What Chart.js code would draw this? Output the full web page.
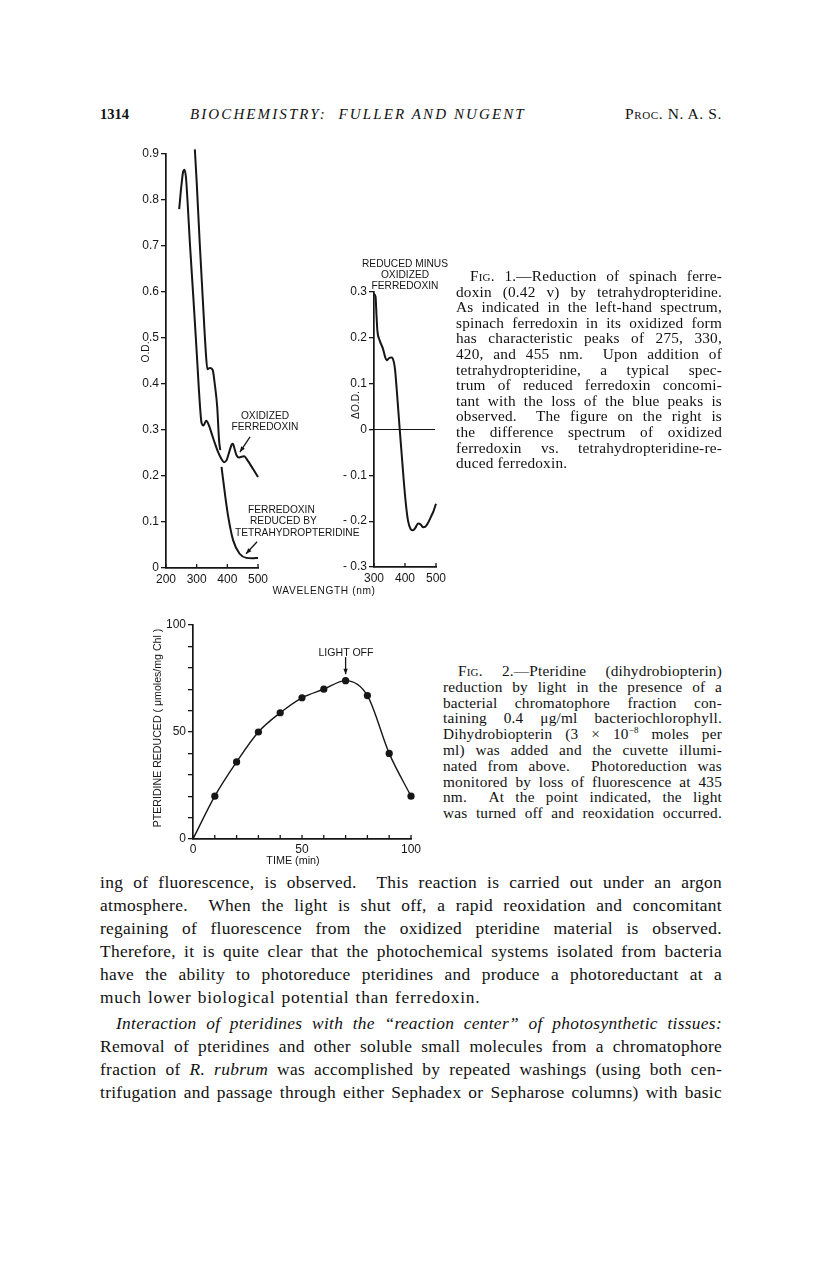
<!DOCTYPE html>
<html>
<head>
<meta charset="utf-8">
<script src="https://cdn.jsdelivr.net/npm/chart.js@4.4.1/dist/chart.umd.min.js"></script>
<style>
  body { margin: 0; background: #fff; }
  #page { position: relative; width: 816px; height: 1270px; background: #fff; color: #111;
          font-family: "Liberation Serif", "Times New Roman", serif; overflow: hidden; }
  canvas { position: absolute; }
  .ln { position: absolute; text-align: justify; text-align-last: justify; white-space: normal; }
  .cap { font-size: 15.3px; line-height: 16px; height: 16px; letter-spacing: 0.2px; }
  .body { font-size: 17.4px; line-height: 20px; height: 20px; letter-spacing: 0.3px; }
  .sc { font-variant: small-caps; }
  .lbl { position: absolute; font-family: "Liberation Sans", Arial, sans-serif; font-size: 10.2px;
         line-height: 10.8px; text-align: center; white-space: nowrap; color: #161616; }
  .rot { transform: translate(-50%, -50%) rotate(-90deg); }
</style>
</head>
<body>
<div id="page">
  <!-- running head -->
  <div class="ln" style="left:100px;top:106px;font-size:14.5px;font-weight:bold;text-align:left;text-align-last:left;">1314</div>
  <div class="ln" style="left:190px;top:106px;font-size:15px;font-style:italic;letter-spacing:2.1px;text-align:left;text-align-last:left;white-space:nowrap">BIOCHEMISTRY:&nbsp; FULLER AND NUGENT</div>
  <div class="ln sc" style="left:560px;top:105px;width:162px;font-size:15.5px;letter-spacing:0.6px;text-align:right;text-align-last:right;">Proc. N. A. S.</div>

  <canvas id="odLeft" width="178" height="452" style="left:100px;top:140px"></canvas>
  <canvas id="odRight" width="156" height="321" style="left:300px;top:270px"></canvas>
  <canvas id="pterChart" width="291" height="251" style="left:140px;top:610px"></canvas>

  <!-- figure 1 labels -->
  <div class="lbl rot" style="left:146px;top:352px">O.D.</div>
  <div class="lbl rot" style="left:356px;top:405px">ΔO.D.</div>
  <div class="lbl" style="left:324px;top:586px;transform:translateX(-50%);letter-spacing:0.6px">WAVELENGTH (nm)</div>
  <div class="lbl" style="left:405px;top:259px;transform:translateX(-50%)">REDUCED MINUS<br>OXIDIZED<br>FERREDOXIN</div>
  <div class="lbl" style="left:265px;top:411px;transform:translateX(-50%)">OXIDIZED<br>FERREDOXIN</div>
  <div class="lbl" style="left:248px;top:505px;text-align:left">FERREDOXIN</div>
  <div class="lbl" style="left:250px;top:516px;text-align:left">REDUCED BY</div>
  <div class="lbl" style="left:235px;top:528px;text-align:left">TETRAHYDROPTERIDINE</div>

  <!-- figure 2 labels -->
  <div class="lbl rot" style="left:157px;top:728px;font-size:10.6px">PTERIDINE REDUCED ( μmoles/mg Chl )</div>
  <div class="lbl" style="left:293px;top:855px;transform:translateX(-50%);font-size:10.8px">TIME (min)</div>
  <div class="lbl" style="left:346px;top:647px;transform:translateX(-50%);font-size:10.6px">LIGHT OFF</div>

  <!-- figure 1 caption -->
  <div class="ln cap" style="left:470px;width:252px;top:268px"><span class="sc">Fig.</span> 1.—Reduction of spinach ferre-</div>
  <div class="ln cap" style="left:456px;width:266px;top:283.6px">doxin (0.42 v) by tetrahydropteridine.</div>
  <div class="ln cap" style="left:456px;width:266px;top:299.2px">As indicated in the left-hand spectrum,</div>
  <div class="ln cap" style="left:456px;width:266px;top:314.8px">spinach ferredoxin in its oxidized form</div>
  <div class="ln cap" style="left:456px;width:266px;top:330.4px">has characteristic peaks of 275, 330,</div>
  <div class="ln cap" style="left:456px;width:266px;top:346px">420, and 455 nm.&nbsp; Upon addition of</div>
  <div class="ln cap" style="left:456px;width:266px;top:361.6px">tetrahydropteridine, a typical spec-</div>
  <div class="ln cap" style="left:456px;width:266px;top:377.2px">trum of reduced ferredoxin concomi-</div>
  <div class="ln cap" style="left:456px;width:266px;top:392.8px">tant with the loss of the blue peaks is</div>
  <div class="ln cap" style="left:456px;width:266px;top:408.4px">observed.&nbsp; The figure on the right is</div>
  <div class="ln cap" style="left:456px;width:266px;top:424px">the difference spectrum of oxidized</div>
  <div class="ln cap" style="left:456px;width:266px;top:439.6px">ferredoxin vs. tetrahydropteridine-re-</div>
  <div class="ln cap" style="left:456px;width:266px;top:455.2px;text-align:left;text-align-last:left">duced ferredoxin.</div>

  <!-- figure 2 caption -->
  <div class="ln cap" style="left:458px;width:264px;top:663px"><span class="sc">Fig.</span> 2.—Pteridine (dihydrobiopterin)</div>
  <div class="ln cap" style="left:443px;width:279px;top:678.8px">reduction by light in the presence of a</div>
  <div class="ln cap" style="left:443px;width:279px;top:694.6px">bacterial chromatophore fraction con-</div>
  <div class="ln cap" style="left:443px;width:279px;top:710.4px">taining 0.4 μg/ml bacteriochlorophyll.</div>
  <div class="ln cap" style="left:443px;width:279px;top:726.2px">Dihydrobiopterin (3 × 10<sup style="font-size:9px;line-height:0">−8</sup> moles per</div>
  <div class="ln cap" style="left:443px;width:279px;top:742px">ml) was added and the cuvette illumi-</div>
  <div class="ln cap" style="left:443px;width:279px;top:757.8px">nated from above.&nbsp; Photoreduction was</div>
  <div class="ln cap" style="left:443px;width:279px;top:773.6px">monitored by loss of fluorescence at 435</div>
  <div class="ln cap" style="left:443px;width:279px;top:789.4px">nm.&nbsp; At the point indicated, the light</div>
  <div class="ln cap" style="left:443px;width:279px;top:805.2px">was turned off and reoxidation occurred.</div>

  <!-- body text -->
  <div class="ln body" style="left:100px;width:622px;top:872px">ing of fluorescence, is observed.&nbsp; This reaction is carried out under an argon</div>
  <div class="ln body" style="left:100px;width:622px;top:895px">atmosphere.&nbsp; When the light is shut off, a rapid reoxidation and concomitant</div>
  <div class="ln body" style="left:100px;width:622px;top:918px">regaining of fluorescence from the oxidized pteridine material is observed.</div>
  <div class="ln body" style="left:100px;width:622px;top:941px">Therefore, it is quite clear that the photochemical systems isolated from bacteria</div>
  <div class="ln body" style="left:100px;width:622px;top:964px">have the ability to photoreduce pteridines and produce a photoreductant at a</div>
  <div class="ln body" style="left:100px;width:622px;top:987px;text-align:left;text-align-last:left;letter-spacing:0.8px;word-spacing:1px">much lower biological potential than ferredoxin.</div>
  <div class="ln body" style="left:116px;width:606px;top:1013px;font-style:italic">Interaction of pteridines with the “reaction center” of photosynthetic tissues:</div>
  <div class="ln body" style="left:100px;width:622px;top:1036px">Removal of pteridines and other soluble small molecules from a chromatophore</div>
  <div class="ln body" style="left:100px;width:622px;top:1059px">fraction of <i>R. rubrum</i> was accomplished by repeated washings (using both cen-</div>
  <div class="ln body" style="left:100px;width:622px;top:1082px">trifugation and passage through either Sephadex or Sepharose columns) with basic</div>
</div>

<script>
// Fig. 1, left: absorbance spectra
const oxWavelength = [243, 250, 256, 260, 265, 270, 278, 289, 300, 310, 316, 322, 331, 340, 350, 360, 370, 380, 390, 398, 406, 414, 418, 424, 430, 438, 446, 455, 462, 472, 485, 500];
const oxOD = [0.78, 0.83, 0.862, 0.866, 0.85, 0.80, 0.705, 0.59, 0.47, 0.36, 0.315, 0.31, 0.32, 0.31, 0.29, 0.27, 0.252, 0.238, 0.23, 0.235, 0.252, 0.268, 0.27, 0.258, 0.245, 0.24, 0.242, 0.243, 0.238, 0.228, 0.214, 0.198];

const redWavelength = [294, 300, 310, 321, 329, 335, 343, 352, 359, 367, 373, 377, 379, 381, 392, 403, 419, 440, 462, 480, 500];
const redOD = [0.91, 0.84, 0.706, 0.572, 0.478, 0.432, 0.435, 0.431, 0.40, 0.35, 0.278, 0.256, null, 0.22, 0.162, 0.111, 0.06, 0.031, 0.022, 0.021, 0.022];

// Fig. 1, right: difference spectrum
const diffWavelength = [300, 305, 308, 311, 318, 329, 336, 341, 349, 357, 364, 368, 373, 378, 383, 390, 397, 404, 410, 418, 426, 434, 442, 450, 458, 466, 474, 484, 492, 500];
const diffOD = [0.296, 0.29, 0.25, 0.215, 0.195, 0.176, 0.158, 0.151, 0.156, 0.157, 0.147, 0.13, 0.09, 0.045, 0.0, -0.06, -0.12, -0.17, -0.2, -0.217, -0.22, -0.214, -0.205, -0.207, -0.213, -0.212, -0.204, -0.19, -0.178, -0.162];
const zeroWavelength = [300, 497];
const zeroOD = [0, 0];

// Fig. 2: pteridine reduced vs time
const timeMin = [0, 10, 20, 30, 40, 50, 60, 70, 80, 90, 100];
const pteridineReduced = [0, 20, 36, 50, 59, 66, 70, 74, 67, 40, 20];

const ink = '#161616';
Chart.defaults.font.family = '"Liberation Sans", Arial, sans-serif';
Chart.defaults.font.size = 12;
Chart.defaults.color = ink;
Chart.defaults.animation = false;

const pts = (xs, ys) => xs.map((x, i) => ({ x: x, y: ys[i] }));

// arrows (in data units) and short inward ticks on the x axis
const marks = {
  id: 'marks',
  afterDatasetsDraw(chart, args, opts) {
    const ctx = chart.ctx, xs = chart.scales.x, ys = chart.scales.y;
    ctx.save();
    ctx.strokeStyle = ink; ctx.fillStyle = ink; ctx.lineWidth = 1.3;
    if (opts.inner) {
      xs.ticks.forEach(t => {
        const px = xs.getPixelForValue(t.value);
        ctx.beginPath(); ctx.moveTo(px, ys.bottom); ctx.lineTo(px, ys.bottom - 4); ctx.stroke();
      });
    }
    (opts.arrows || []).forEach(a => {
      const x0 = xs.getPixelForValue(a[0]), y0 = ys.getPixelForValue(a[1]);
      const x1 = xs.getPixelForValue(a[2]), y1 = ys.getPixelForValue(a[3]);
      ctx.beginPath(); ctx.moveTo(x0, y0); ctx.lineTo(x1, y1); ctx.stroke();
      const ang = Math.atan2(y1 - y0, x1 - x0), h = 6;
      ctx.beginPath(); ctx.moveTo(x1, y1);
      ctx.lineTo(x1 - h * Math.cos(ang - 0.38), y1 - h * Math.sin(ang - 0.38));
      ctx.lineTo(x1 - h * Math.cos(ang + 0.38), y1 - h * Math.sin(ang + 0.38));
      ctx.closePath(); ctx.fill();
    });
    ctx.restore();
  }
};

function yAxis(min, max, step, width, fmt) {
  return {
    type: 'linear', min: min, max: max,
    afterFit: s => { s.width = width; },
    ticks: { stepSize: step, autoSkip: false, padding: 2, callback: fmt },
    grid: { drawOnChartArea: false, drawTicks: true, tickLength: 5, color: ink, lineWidth: 1.3 },
    border: { display: true, color: ink, width: 1.7 }
  };
}

function xAxis(min, max, step, height, pad, fmt) {
  return {
    type: 'linear', min: min, max: max,
    afterFit: s => { s.height = height; },
    ticks: { stepSize: step, autoSkip: false, maxRotation: 0, padding: pad, callback: fmt },
    grid: { display: false, drawTicks: false },
    border: { display: true, color: ink, width: 1.7 }
  };
}

const curve = { borderColor: ink, borderWidth: 2, pointRadius: 0, fill: false, cubicInterpolationMode: 'monotone', clip: false };
const odLabel = v => (Math.abs(v) < 1e-9 ? '0' : v.toFixed(1).replace('-', '- '));

new Chart(document.getElementById('odLeft'), {
  type: 'line',
  data: { datasets: [
    Object.assign({ data: pts(oxWavelength, oxOD) }, curve),
    Object.assign({ data: pts(redWavelength, redOD) }, curve)
  ] },
  options: {
    responsive: false,
    layout: { padding: { top: 14, right: 20, left: 0, bottom: 0 } },
    plugins: { legend: { display: false }, tooltip: { enabled: false },
      marks: { inner: true, arrows: [[474, 0.285, 441, 0.252], [497, 0.057, 461, 0.031]] } },
    scales: {
      x: xAxis(200, 500, 100, 24, 4, v => v),
      y: yAxis(0, 0.9, 0.1, 66, odLabel)
    }
  },
  plugins: [marks]
});

new Chart(document.getElementById('odRight'), {
  type: 'line',
  data: { datasets: [
    Object.assign({ data: pts(diffWavelength, diffOD) }, curve),
    Object.assign({ data: pts(zeroWavelength, zeroOD) }, curve, { borderWidth: 1.2, cubicInterpolationMode: 'default', tension: 0 })
  ] },
  options: {
    responsive: false,
    layout: { padding: { top: 22, right: 20, left: 0, bottom: 0 } },
    plugins: { legend: { display: false }, tooltip: { enabled: false }, marks: { inner: true } },
    scales: {
      x: xAxis(300, 500, 100, 24, 4, v => v),
      y: yAxis(-0.3, 0.3, 0.1, 74, odLabel)
    }
  },
  plugins: [marks]
});

new Chart(document.getElementById('pterChart'), {
  type: 'line',
  data: { datasets: [
    Object.assign({ data: pts(timeMin, pteridineReduced) }, curve, {
      borderWidth: 1.4,
      pointRadius: c => (c.dataIndex === 0 ? 0 : 3.6),
      pointBackgroundColor: ink, pointBorderColor: ink, pointBorderWidth: 0
    })
  ] },
  options: {
    responsive: false,
    layout: { padding: { top: 15, right: 20, left: 0, bottom: 0 } },
    plugins: { legend: { display: false }, tooltip: { enabled: false },
      marks: { inner: true, arrows: [[70, 85, 70, 77]] } },
    scales: {
      x: xAxis(0, 100, 10, 22, 3, v => (v % 50 === 0 ? v : '')),
      y: yAxis(0, 100, 10, 53, v => (v % 50 === 0 ? v : ''))
    }
  },
  plugins: [marks]
});
</script>
</body>
</html>
